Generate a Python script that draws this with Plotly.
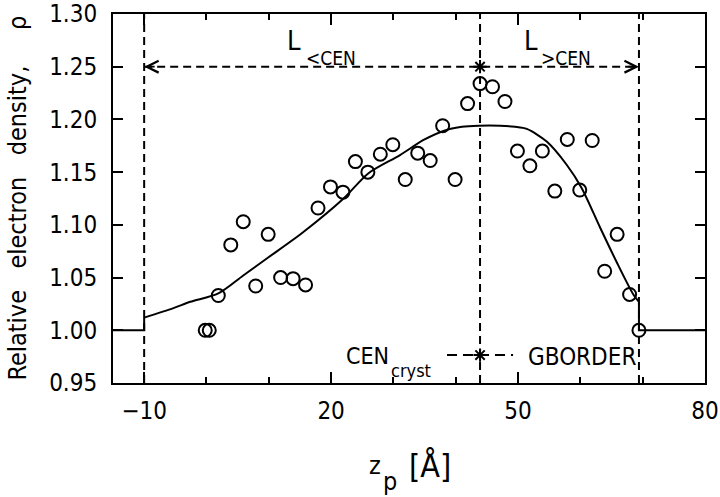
import plotly.graph_objects as go

# measured points
z_pts = [-0.2, 0.45, 1.9, 3.9, 5.9, 7.9, 9.9, 11.9, 13.9, 15.9, 17.9, 19.9, 21.9, 23.9,
         25.9, 27.9, 29.9, 31.9, 33.9, 35.9, 37.9, 39.9, 41.9, 43.9, 45.9, 47.9, 49.9,
         51.9, 53.9, 55.9, 57.9, 59.9, 61.9, 63.9, 65.9, 67.9, 69.4]
rho_pts = [1.000, 1.000, 1.033, 1.081, 1.103, 1.042, 1.091, 1.050, 1.049, 1.043, 1.116,
           1.136, 1.131, 1.160, 1.150, 1.167, 1.176, 1.143, 1.168, 1.161, 1.194, 1.143,
           1.215, 1.234, 1.231, 1.217, 1.170, 1.156, 1.170, 1.132, 1.181, 1.133, 1.180,
           1.056, 1.091, 1.034, 1.000]

# fitted profile (smooth part)
z_fit = [-10, -5.3, -2.6, 1.9, 5.9, 9.9, 15.5, 22.0, 26.0, 31.0, 35.0, 38.5,
         41.0, 43.7, 47.1, 49.5, 51.4, 54.6, 57.8, 60.2, 63.2, 65.8, 68.5, 69.4]
rho_fit = [1.012, 1.021, 1.027, 1.035, 1.052, 1.069, 1.093, 1.125, 1.149, 1.166, 1.181,
           1.190, 1.193, 1.194, 1.194, 1.193, 1.191, 1.179, 1.157, 1.135, 1.097, 1.065,
           1.034, 1.027]
# flat bulk levels outside the boundaries
z_bulk_l = [-15, -10, -10]
rho_bulk_l = [1.000, 1.000, 1.012]
z_bulk_r = [69.4, 69.4, 80]
rho_bulk_r = [1.027, 1.000, 1.000]

z_left = -10      # left boundary
z_cen = 43.9      # CEN_cryst
z_gb = 69.4       # GBORDER
rho_arrow = 1.25

x_ticks = [-10, 20, 50, 80]
x_minor = [0, 10, 30, 40, 60, 70]
y_ticks = [0.95, 1.00, 1.05, 1.10, 1.15, 1.20, 1.25, 1.30]

FONT = "DejaVu Sans Condensed, Liberation Sans, sans-serif"
DASH = "8px,5px"


def txt(size):
    return dict(family=FONT, size=size, color="black")


fig = go.Figure()

# vertical guides
for zv in [z_left, z_cen, z_gb]:
    fig.add_trace(go.Scatter(x=[zv, zv], y=[0.95, 1.30], mode="lines",
                             line=dict(color="black", width=2, dash=DASH),
                             hoverinfo="skip"))

# horizontal span line
fig.add_trace(go.Scatter(x=[z_left, z_gb], y=[rho_arrow, rho_arrow], mode="lines",
                         line=dict(color="black", width=2, dash=DASH),
                         hoverinfo="skip"))
fig.add_trace(go.Scatter(x=[z_cen], y=[rho_arrow], mode="markers",
                         marker=dict(symbol="asterisk-open", size=11, color="black",
                                     line=dict(color="black", width=2)),
                         hoverinfo="skip"))

# fitted curve
fig.add_trace(go.Scatter(x=z_fit, y=rho_fit, mode="lines", line_shape="spline",
                         line=dict(color="black", width=2, smoothing=0.8),
                         hoverinfo="skip"))
for zb, rb in [(z_bulk_l, rho_bulk_l), (z_bulk_r, rho_bulk_r)]:
    fig.add_trace(go.Scatter(x=zb, y=rb, mode="lines",
                             line=dict(color="black", width=2), hoverinfo="skip"))

# data points
fig.add_trace(go.Scatter(x=z_pts, y=rho_pts, mode="markers",
                         marker=dict(symbol="circle-open", size=13, color="black",
                                     line=dict(color="black", width=2))))

# key sample
key_y = 0.9765
fig.add_shape(type="line", x0=38.6, x1=49.2, y0=key_y, y1=key_y,
              line=dict(color="black", width=2, dash="10px,6px"))
fig.add_trace(go.Scatter(x=[z_cen], y=[key_y], mode="markers",
                         marker=dict(symbol="asterisk-open", size=11, color="black",
                                     line=dict(color="black", width=2)),
                         hoverinfo="skip"))

# arrow heads
for xa, ax in [(z_left, 12), (z_gb, -12)]:
    fig.add_annotation(x=xa, y=rho_arrow, ax=ax, ay=0, text="", showarrow=True,
                       arrowhead=5, arrowsize=1.3, arrowwidth=1.8, arrowcolor="black")

# L<CEN and L>CEN labels (big L, lowered subscript)
fig.add_annotation(x=14.1, y=1.2745, text="L", showarrow=False, font=txt(27))
fig.add_annotation(x=20.0, y=1.2584, text="&lt;CEN", showarrow=False, font=txt(19))
fig.add_annotation(x=52.1, y=1.2745, text="L", showarrow=False, font=txt(27))
fig.add_annotation(x=57.7, y=1.2584, text="&gt;CEN", showarrow=False, font=txt(19))

# key labels
fig.add_annotation(x=25.85, y=0.9755, text="CEN", showarrow=False, font=txt(23))
fig.add_annotation(x=32.9, y=0.9617, text="cryst", showarrow=False, font=txt(18))
fig.add_annotation(x=51.3, y=0.9746, text="GBORDER", showarrow=False,
                   xanchor="left", font=txt(24))

# axis titles
title_pos = dict(xref="paper", yref="paper", xanchor="center", yanchor="middle",
                 showarrow=False)
fig.add_annotation(x=0.4426, y=-0.224, text="z", font=txt(25), **title_pos)
fig.add_annotation(x=0.4680, y=-0.268, text="p", font=txt(25), **title_pos)
fig.add_annotation(x=0.5355, y=-0.224, text="[Å]", font=txt(32), **title_pos)
fig.add_annotation(x=-0.162, y=0.5, textangle=-90,
                   text="Relative\u00a0\u00a0\u00a0electron\u00a0\u00a0\u00a0density,"
                        "\u00a0\u00a0\u00a0\u00a0\u00a0ρ",
                   font=txt(25), **title_pos)

axis_style = dict(showline=True, linecolor="black", linewidth=2, mirror="ticks",
                  ticks="inside", tickcolor="black", tickwidth=2, showgrid=False,
                  zeroline=False, automargin=False, ticklabeloverflow="allow",
                  tickfont=txt(24))

fig.update_xaxes(range=[-15, 80], tickvals=x_ticks, ticklen=11,
                 minor=dict(tickvals=x_minor, ticks="inside", ticklen=6,
                            tickcolor="black", tickwidth=2),
                 ticklabelstandoff=5, **axis_style)
fig.update_yaxes(range=[0.95, 1.30], tickvals=y_ticks, tickformat=".2f", ticklen=10,
                 ticklabelstandoff=9, **axis_style)

fig.update_layout(width=720, height=497, plot_bgcolor="white", paper_bgcolor="white",
                  margin=dict(l=113, r=15, t=14, b=114), showlegend=False)

# drop the default page margin so the figure fills the window
fig.write_html("out.html", config={"displayModeBar": False},
               post_script="document.body.style.margin='0';")
